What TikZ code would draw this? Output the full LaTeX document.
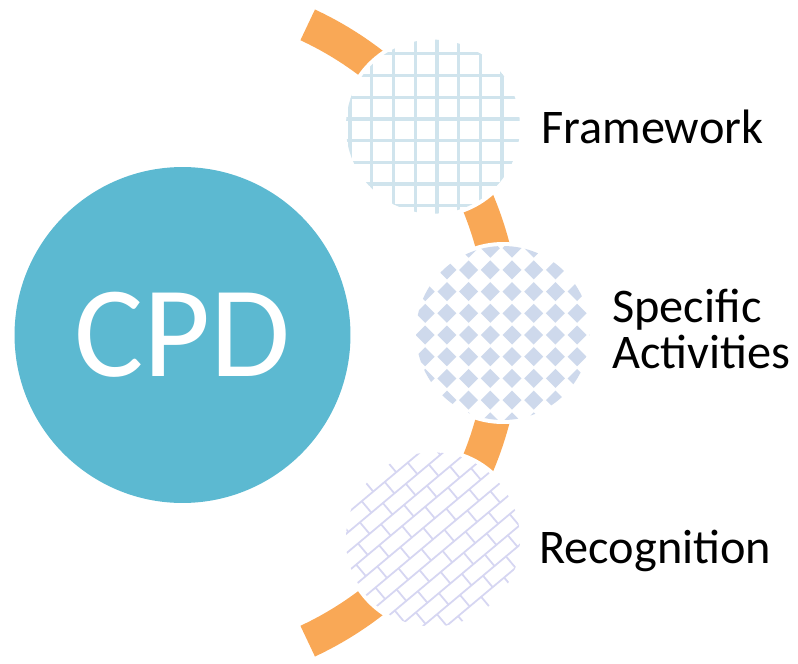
\documentclass[tikz,border=0pt]{standalone}
\usepackage{fontspec}
\setmainfont{Carlito}
\usepackage{tikz}
\usetikzlibrary{positioning,calc}
\definecolor{hubTeal}{RGB}{92, 185, 209}
\definecolor{arcOrange}{RGB}{249, 168, 86}
\definecolor{gridBlue}{RGB}{208, 228, 237}
\definecolor{diamondBlue}{RGB}{206, 217, 236}
\definecolor{brickLilac}{RGB}{214, 214, 242}

\begin{document}
\begin{tikzpicture}[x=0.02cm,y=0.02cm,
                hub/.style={circle,fill=hubTeal,minimum size=6.72cm,inner sep=0pt,
                           text=white,font=\fontsize{74}{80}\selectfont},
                petal/.style={circle,fill=white,draw=white,line width=0.08cm,
                           minimum size=3.56cm,inner sep=0pt},
                itemtext/.style={font=\fontsize{27.5}{26}\selectfont,align=left,inner sep=0pt}
            ]
                \useasboundingbox (0,0) rectangle (798,-663);
                \coordinate (hinge) at (164,-333);
                % the orange arc behind the three circles
                \draw[arcOrange,line width=0.68cm] ($(hinge)+(65:340)$) arc (65:-65:340);
                \node[hub] (cpd) at (182.5,-335) {CPD};
                \node[petal] (frame) at ($(hinge)+(37.5:339)$) {};
                \node[petal] (activ) at ($(hinge)+(0:339)$) {};
                \node[petal] (recog) at ($(hinge)+(-37.5:339)$) {};
                % grid
                \begin{scope}
                    \clip (frame.center) circle (87);
                    \foreach \k in {-5,...,5} {
                        \draw[gridBlue,line width=0.066cm] ($(frame.center)+(4+21.7*\k,-100)$) -- ++(0,200);
                        \draw[gridBlue,line width=0.066cm] ($(frame.center)+(-100,-14-21.7*\k)$) -- ++(200,0);
                    }
                \end{scope}
                % diamonds
                \begin{scope}
                    \clip (activ.center) circle (87);
                    \foreach \k in {-5,...,5}
                        \foreach \l in {-5,...,5}
                            \fill[diamondBlue] ($(activ.center)+(9+21.7*\k,-2-21.7*\l)$)
                                +(0,9.5) -- +(9.5,0) -- +(0,-9.5) -- +(-9.5,0) -- cycle;
                \end{scope}
                % bricks
                \begin{scope}
                    \clip (recog.center) circle (87);
                    \begin{scope}[shift={(recog.center)},rotate=40]
                        \foreach \k in {-7,...,7} {
                            \draw[brickLilac,line width=0.035cm] (-110,15*\k) -- (110,15*\k);
                            \foreach \m in {-4,...,4}
                                \draw[brickLilac,line width=0.035cm]
                                    ({30*\m+15*mod(\k+20,2)},15*\k) -- ++(0,15);
                        }
                    \end{scope}
                \end{scope}
                \node[itemtext,anchor=base west] (frameText) at (541,-143) {Framework};
                \node[itemtext,anchor=west] (activText) at (612,-329) {Specific\\Activities};
                \node[itemtext,anchor=base west] (recogText) at (539,-563) {Recognition};
            \end{tikzpicture}
\end{document}
